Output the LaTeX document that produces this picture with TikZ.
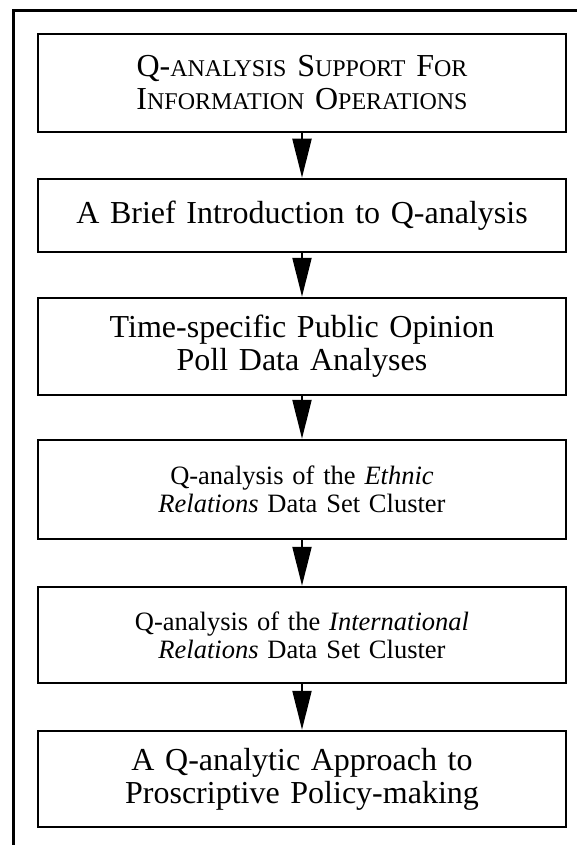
\documentclass[tikz,border=0pt]{standalone}
\usepackage{fontspec}
\setmainfont{Liberation Serif}
\usetikzlibrary{arrows.meta}
\newcommand{\smc}[1]{{\fontsize{24}{24}\selectfont #1}}
\begin{document}
\begin{tikzpicture}[x=1pt,y=-1pt,
  box/.style={draw, line width=2.5pt, minimum width=528pt, inner sep=0pt,
              align=center, text width=520pt},
  big/.style={font=\fontsize{32}{33}\selectfont},
  mid/.style={font=\fontsize{26.5}{28}\selectfont},
  conn/.style={line width=2pt, -{Triangle[length=39pt,width=19pt]}},
  frame/.style={line width=3pt}]
\useasboundingbox (0,0) rectangle (577,845);
\coordinate (ftl) at (13,11);
\coordinate (ftr) at (580,11);
\coordinate (fbl) at (13,848);
\draw[frame] (ftr) -- (ftl) -- (fbl);

\node[box, big, minimum height=98pt] (b1) at (302,83)
  {Q-\smc{ANALYSIS} S\smc{UPPORT} F\smc{OR}\\I\smc{NFORMATION} O\smc{PERATIONS}};
\node[box, big, minimum height=73pt] (b2) at (302,215.5)
  {A Brief Introduction to Q-analysis};
\node[box, big, minimum height=97pt] (b3) at (302,346.5)
  {Time-specific Public Opinion\\Poll Data Analyses};
\node[box, mid, minimum height=99pt] (b4) at (302,489.5)
  {Q-analysis of the \textit{Ethnic}\\\textit{Relations} Data Set Cluster};
\node[box, mid, minimum height=96pt] (b5) at (302,635)
  {Q-analysis of the \textit{International}\\\textit{Relations} Data Set Cluster};
\node[box, big, minimum height=96pt] (b6) at (302,779)
  {A Q-analytic Approach to\\Proscriptive Policy-making};

\draw[conn] (b1) -- (b2);
\draw[conn] (b2) -- (b3);
\draw[conn] (b3) -- (b4);
\draw[conn] (b4) -- (b5);
\draw[conn] (b5) -- (b6);
\end{tikzpicture}
\end{document}
